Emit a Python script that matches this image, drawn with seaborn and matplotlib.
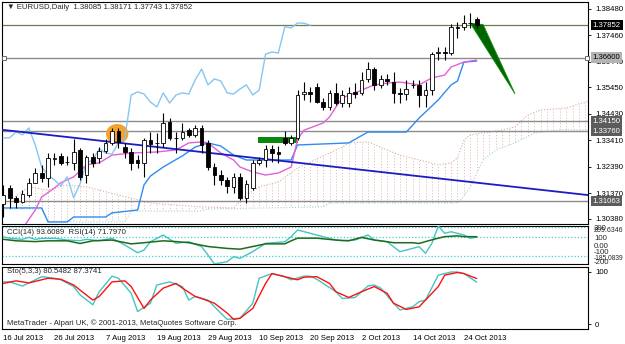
import numpy as np
import matplotlib
matplotlib.use("Agg")
import matplotlib.pyplot as plt
import matplotlib.transforms as mtransforms
from matplotlib.patches import Ellipse, Rectangle, Polygon
import seaborn as sns

# EURUSD daily bars, 16 Jul 2013 - 28 Oct 2013
opens = [1.3095, 1.3157, 1.3119, 1.3103, 1.3130, 1.3177, 1.3215, 1.3196, 1.3270, 1.3281,
         1.3257, 1.3254, 1.3304, 1.3207, 1.3277, 1.3273, 1.3300, 1.3331, 1.3377, 1.3315,
         1.3296, 1.3265, 1.3254, 1.3342, 1.3331, 1.3331, 1.3412, 1.3350, 1.3350, 1.3381,
         1.3362, 1.3389, 1.3331, 1.3238, 1.3207, 1.3188, 1.3161, 1.3200, 1.3119, 1.3157,
         1.3254, 1.3265, 1.3308, 1.3296, 1.3350, 1.3331, 1.3350, 1.3520, 1.3528, 1.3547,
         1.3489, 1.3470, 1.3524, 1.3485, 1.3485, 1.3528, 1.3524, 1.3578, 1.3616, 1.3555,
         1.3578, 1.3566, 1.3522, 1.3520, 1.3553, 1.3555, 1.3516, 1.3535, 1.3678, 1.3682,
         1.3678, 1.3779, 1.3779, 1.3794, 1.38085]
highs = [1.3169, 1.3169, 1.3125, 1.3149, 1.3196, 1.3235, 1.3246, 1.3292, 1.3292, 1.3292,
         1.3280, 1.3346, 1.3311, 1.3285, 1.3292, 1.3315, 1.3346, 1.3389, 1.3389, 1.3331,
         1.3311, 1.3285, 1.3350, 1.3373, 1.3369, 1.3447, 1.3427, 1.3373, 1.3408, 1.3389,
         1.3400, 1.3400, 1.3342, 1.3254, 1.3227, 1.3200, 1.3215, 1.3215, 1.3188, 1.3265,
         1.3277, 1.3323, 1.3323, 1.3320, 1.3377, 1.3362, 1.3535, 1.3566, 1.3547, 1.3562,
         1.3505, 1.3535, 1.3562, 1.3535, 1.3547, 1.3562, 1.3605, 1.3643, 1.3624, 1.3593,
         1.3597, 1.3605, 1.3543, 1.3574, 1.3574, 1.3574, 1.3566, 1.3682, 1.3701, 1.3701,
         1.3790, 1.3798, 1.3825, 1.3833, 1.38171]
lows = [1.3045, 1.3080, 1.3080, 1.3099, 1.3123, 1.3175, 1.3180, 1.3161, 1.3246, 1.3246,
        1.3246, 1.3227, 1.3188, 1.3177, 1.3238, 1.3254, 1.3292, 1.3323, 1.3311, 1.3273,
        1.3227, 1.3235, 1.3200, 1.3292, 1.3292, 1.3315, 1.3342, 1.3292, 1.3342, 1.3354,
        1.3354, 1.3292, 1.3227, 1.3169, 1.3169, 1.3138, 1.3138, 1.3111, 1.3099, 1.3149,
        1.3246, 1.3238, 1.3257, 1.3254, 1.3323, 1.3323, 1.3342, 1.3497, 1.3489, 1.3485,
        1.3460, 1.3460, 1.3477, 1.3470, 1.3470, 1.3505, 1.3516, 1.3566, 1.3535, 1.3543,
        1.3555, 1.3485, 1.3485, 1.3497, 1.3543, 1.3470, 1.3470, 1.3516, 1.3651, 1.3651,
        1.3670, 1.3736, 1.3767, 1.3775, 1.37743]
closes = [1.3130, 1.3119, 1.3103, 1.3134, 1.3177, 1.3215, 1.3196, 1.3273, 1.3273, 1.3254,
          1.3258, 1.3296, 1.3200, 1.3277, 1.3254, 1.3300, 1.3331, 1.3377, 1.3335, 1.3296,
          1.3254, 1.3254, 1.3342, 1.3327, 1.3332, 1.3408, 1.3350, 1.3351, 1.3373, 1.3362,
          1.3389, 1.3323, 1.3238, 1.3207, 1.3188, 1.3165, 1.3200, 1.3119, 1.3173, 1.3254,
          1.3265, 1.3308, 1.3292, 1.3288, 1.3331, 1.3350, 1.3516, 1.3528, 1.3520, 1.3489,
          1.3470, 1.3524, 1.3485, 1.3516, 1.3524, 1.3520, 1.3574, 1.3616, 1.3555, 1.3578,
          1.3570, 1.3524, 1.3520, 1.3539, 1.3555, 1.3516, 1.3535, 1.3674, 1.3682, 1.3678,
          1.3779, 1.3775, 1.3794, 1.3793, 1.37852]

date_ticks = [0, 8, 16, 24, 32, 40, 48, 56, 64, 72]
date_labels = ["16 Jul 2013", "26 Jul 2013", "7 Aug 2013", "19 Aug 2013", "29 Aug 2013",
               "10 Sep 2013", "20 Sep 2013", "2 Oct 2013", "14 Oct 2013", "24 Oct 2013"]
price_ticks = [1.38480, 1.37460, 1.36440, 1.35450, 1.34430, 1.33410, 1.32390, 1.31370, 1.30380]

# ichimoku lines (bar index, price)
tenkan_x = [3, 5, 6, 8, 9, 11, 13, 15, 17, 20, 24, 27, 29, 31, 32, 34, 36, 37, 39, 41, 43, 45,
            46, 47, 50, 51, 52, 53, 55, 56, 58, 60, 62, 65, 67, 69, 70, 72, 74]
tenkan = [1.3000, 1.3072, 1.3122, 1.3157, 1.3177, 1.3200, 1.3246, 1.3254, 1.3284, 1.3292,
          1.3296, 1.3304, 1.3331, 1.3335, 1.3331, 1.3292, 1.3265, 1.3238, 1.3219, 1.3207,
          1.3215, 1.3238, 1.3345, 1.3380, 1.3408, 1.3431, 1.3470, 1.3505, 1.3524, 1.3535,
          1.3555, 1.3562, 1.3566, 1.3555, 1.3582, 1.3593, 1.3624, 1.3643, 1.3651]
kijun_x = [0, 6, 7, 10, 11, 16, 17, 21, 22, 23, 25, 28, 30, 32, 34, 36, 38, 45, 46, 54, 57,
           63, 65, 68, 70, 71, 72, 74]
kijun = [1.3080, 1.3080, 1.3026, 1.3026, 1.3045, 1.3045, 1.3061, 1.3072, 1.3169, 1.3203,
         1.3238, 1.3281, 1.3315, 1.3331, 1.3319, 1.3284, 1.3265, 1.3265, 1.3323, 1.3331,
         1.3373, 1.3373, 1.3427, 1.3497, 1.3555, 1.3570, 1.3643, 1.3647]
span_a_x = [0, 4, 7, 10, 13, 15, 18, 23, 31, 36, 38, 40, 43, 46, 51, 53, 54, 57, 60, 62, 65,
            68, 70, 71, 72, 73, 78, 80, 82, 84, 88, 92]
span_a = [1.3091, 1.3161, 1.3149, 1.3169, 1.3161, 1.3149, 1.3130, 1.3099, 1.3084, 1.3080,
          1.3130, 1.3161, 1.3180, 1.3234, 1.3292, 1.3315, 1.3331, 1.3335, 1.3304, 1.3284,
          1.3265, 1.3246, 1.3254, 1.3273, 1.3342, 1.3362, 1.3381, 1.3393, 1.3439, 1.3458,
          1.3466, 1.3497]
span_b_x = [0, 6, 7, 19, 20, 31, 32, 50, 51, 71, 72, 73, 75, 77, 80, 83, 87, 92]
span_b = [1.3076, 1.3076, 1.3026, 1.3026, 1.3068, 1.3068, 1.3076, 1.3084, 1.3099, 1.3099,
          1.3126, 1.3161, 1.3265, 1.3304, 1.3331, 1.3369, 1.3381, 1.3381]
chikou_shift = 26

# drawn objects
trend_x = [-1, 92]
trend_y = [1.3384, 1.3128]
bid_level = 1.37852
h_levels = [1.36600, 1.34150, 1.33760, 1.31063]

# CCI(14) and RSI(14)
cci_x = [0, 1, 3, 4, 5, 6, 8, 10, 12, 13, 15, 17, 19, 21, 22, 23, 25, 27, 29, 31, 32, 33, 35,
         36, 37, 39, 41, 44, 45, 46, 48, 50, 52, 53, 55, 57, 58, 60, 62, 63, 65, 66, 67, 68,
         69, 70, 72, 73, 74]
cci = [98, 82, 71, 92, 71, 82, 82, 64, 57, 71, 57, 82, 12, -68, -40, 46, 116, 30, 46, -5,
       -92, -185.0839, -161, -109, -126, -57, 30, 46, 98, 168, 134, 98, 64, 57, 64, 116, 64,
       46, -57, -40, -5, -74, 30, 209.6346, 134, 150, 116, 82, 93.6089]
cci_levels = [200, 100, -100]
rsi_x = [0, 2, 5, 7, 10, 12, 14, 17, 20, 22, 25, 27, 29, 32, 35, 37, 39, 41, 44, 45, 46, 49,
         52, 54, 56, 58, 59, 61, 64, 65, 66, 68, 69, 71, 72, 74]
rsi = [65, 61, 59, 61, 61, 54, 61, 63, 53, 56, 61, 59, 56, 46, 41, 39, 46, 53, 53, 61, 68, 68,
       63, 61, 70, 63, 61, 56, 56, 54, 59, 68, 72, 74, 72, 71.797]

# Stochastic(5,3,3)
sto_main_x = [0, 1, 3, 5, 6, 8, 9, 11, 12, 14, 15, 17, 18, 20, 21, 23, 24, 26, 28, 29, 30, 32,
              34, 35, 37, 39, 40, 42, 44, 45, 47, 48, 49, 52, 53, 55, 57, 58, 59, 61, 62, 64,
              65, 66, 68, 70, 71, 72, 74]
sto_main = [81, 81, 73, 85, 91, 88, 85, 72, 56, 37, 62, 92, 88, 59, 24, 40, 75, 81, 72, 46,
            53, 46, 21, 9, 11, 40, 88, 97, 91, 85, 92, 92, 86, 62, 49, 51, 73, 75, 69, 40,
            27, 33, 43, 46, 94, 100, 100, 97, 80.5482]
sto_sig_x = [0, 2, 4, 6, 7, 9, 11, 14, 15, 17, 19, 20, 22, 23, 25, 27, 28, 30, 31, 33, 35, 36,
             37, 39, 41, 42, 44, 46, 47, 49, 51, 52, 54, 56, 58, 60, 61, 63, 65, 66, 68, 69,
             71, 72, 74]
sto_sig = [78, 83, 79, 85, 88, 86, 75, 46, 53, 81, 83, 72, 30, 46, 69, 78, 69, 53, 49, 40, 21,
           9, 11, 30, 78, 97, 91, 85, 90, 91, 78, 62, 51, 62, 72, 59, 40, 28, 33, 46, 72, 94,
           99, 97, 87.3741]

sns.set_style("white")
plt.rcParams["font.family"] = ["Liberation Sans", "DejaVu Sans"]
FS = 5.6
W, H = 625, 344

fig = plt.figure(figsize=(W / 100, H / 100), dpi=100)


def panel(top, bottom):
    return fig.add_axes([2 / W, 1 - bottom / H, 586 / W, (bottom - top) / H])


ax = panel(2, 224)
ax_cci = panel(226, 264)
ax_sto = panel(267, 329)
XLIM = (-0.2, 91.4)

# ---------------- price panel ----------------
idx = np.arange(len(closes))
o, h, l, c = map(np.array, (opens, highs, lows, closes))
up = c >= o
ax.set_xlim(*XLIM)
ax.set_ylim(1.3018, 1.3875)

# kumo: dotted verticals clipped to the area between the spans
verts = list(zip(span_a_x, span_a)) + list(zip(span_b_x[::-1], span_b[::-1]))
cloud = Polygon(verts, closed=True, facecolor="none", edgecolor="none")
ax.add_patch(cloud)
vl = ax.vlines(np.arange(0, 93), 1.29, 1.40, colors="#e0b6aa", linestyles=(0, (1, 2)),
               lw=0.7, zorder=1)
vl.set_clip_path(cloud)
ax.plot(span_a_x, span_a, color="#dcab9e", lw=0.8, ls=(0, (1, 1.6)), zorder=1)
ax.plot(span_b_x, span_b, color="#a6d2d2", lw=0.8, ls=(0, (1, 1.6)), zorder=1)

# horizontal lines and objects
ax.axhline(bid_level, color="#6b7f4a", lw=0.9, zorder=2)
for lv in h_levels:
    ax.axhline(lv, color="#8c8c8c", lw=1.0, zorder=2)
trans = mtransforms.blended_transform_factory(ax.transAxes, ax.transData)
ax.plot([0.004, 0.998], [h_levels[0]] * 2, transform=trans, ls="none", marker="s", ms=2.6,
        mfc="white", mec="#555555", mew=0.6, clip_on=False, zorder=7)
ax.add_patch(Ellipse((17.8, 1.3366), width=3.5, height=0.0076, fc="#f6a22a", ec="none", zorder=3))
ax.add_patch(Rectangle((39.8, 1.3331), 6.3, 0.0023, fc="#0a880a", ec="none", zorder=3))
ax.add_patch(Polygon([(73.0, 1.3793), (75.0, 1.3788), (80.0, 1.3520)], fc="#006400",
                     ec="#0c900c", lw=0.6, zorder=4))

# ichimoku lines + trend line
sns.lineplot(x=kijun_x, y=kijun, ax=ax, color="#2f8cf0", lw=1.0, legend=False, zorder=4)
sns.lineplot(x=tenkan_x, y=tenkan, ax=ax, color="#e45fd8", lw=1.0, legend=False, zorder=4)
sns.lineplot(x=idx[:-chikou_shift], y=c[chikou_shift:], ax=ax, color="#86c6f2", lw=1.0,
             legend=False, zorder=4)
sns.lineplot(x=trend_x, y=trend_y, ax=ax, color="#1c1cc4", lw=1.3, legend=False, zorder=4)

# candles
ax.vlines(idx, l, h, color="black", lw=0.8, zorder=5)
ax.bar(idx, np.maximum(np.abs(c - o), 0.00004), bottom=np.minimum(o, c), width=0.58,
       color=np.where(up, "white", "black"), edgecolor="black", lw=0.6, zorder=6)

ax.yaxis.tick_right()
ax.set_yticks(price_ticks)
ax.set_yticklabels([f"{v:.5f}" for v in price_ticks])
ax.tick_params(axis="y", direction="out", length=2.5, width=0.6, labelsize=FS, pad=2.5,
               colors="black")
ax.set_xticks([])
ax.set_xlabel("")
ax.set_ylabel("")

box_styles = [(bid_level, "black", "white"), (1.36600, "#b4b4b4", "black"),
              (1.34150, "#5c5c5c", "white"), (1.33760, "#5c5c5c", "white"),
              (1.31063, "#5c5c5c", "white")]
for lv, bg, fc in box_styles:
    ax.text(1.008, lv, f"{lv:.5f}", transform=trans, ha="left", va="center", fontsize=FS,
            color=fc, bbox=dict(boxstyle="square,pad=0.22", fc=bg, ec="none"), zorder=10)

ax.text(0.0085, 0.973, "▼ EURUSD,Daily  1.38085 1.38171 1.37743 1.37852",
        transform=ax.transAxes, ha="left", va="center", fontsize=FS)

# ---------------- CCI / RSI panel ----------------
ax_cci.set_xlim(*XLIM)
ax_cci.set_ylim(-185.0839, 209.6346)
for lv in cci_levels:
    ax_cci.axhline(lv, color="#3fd3d3", lw=0.9, ls=(0, (1, 1.6)), zorder=1)
sns.lineplot(x=cci_x, y=cci, ax=ax_cci, color="#45c3c3", lw=1.0, legend=False, zorder=3)
ax_cci.set_xticks([])
ax_cci.set_yticks([])
ax_cci.set_xlabel("")
ax_cci.set_ylabel("")
ax_rsi = ax_cci.twinx()
ax_rsi.set_xlim(*XLIM)
ax_rsi.set_ylim(0, 100)
sns.lineplot(x=rsi_x, y=rsi, ax=ax_rsi, color="#1d6a1d", lw=1.1, legend=False)
ax_rsi.axis("off")
ax_cci.text(0.0085, 0.82, "CCI(14) 93.6089  RSI(14) 71.7970", transform=ax_cci.transAxes,
            ha="left", va="center", fontsize=FS)
# value labels of the sub-window scale (they overlap in the original too)
cci_labels = [("200", 0.93, FS), ("209.6346", 0.88, 5.0), ("100", 0.68, FS),
              ("0.00", 0.45, FS), ("-100", 0.29, FS), ("-185.0839", 0.15, 4.8),
              ("-200", 0.05, FS)]
for txt, fy, fs in cci_labels:
    ax_cci.text(1.010, fy, txt, transform=ax_cci.transAxes, ha="left", va="center",
                fontsize=fs)

# ---------------- Stochastic panel ----------------
ax_sto.set_xlim(*XLIM)
ax_sto.set_ylim(-9.6, 109.6)
sns.lineplot(x=sto_main_x, y=sto_main, ax=ax_sto, color="#45c3c3", lw=1.0, legend=False)
sns.lineplot(x=sto_sig_x, y=sto_sig, ax=ax_sto, color="#ff1010", lw=1.0, legend=False)
ax_sto.yaxis.tick_right()
ax_sto.set_yticks([0, 100])
ax_sto.set_yticklabels(["0", "100"])
ax_sto.set_xticks(date_ticks)
ax_sto.set_xticklabels(date_labels)
for t in ax_sto.get_xticklabels():
    t.set_horizontalalignment("left")
ax_sto.tick_params(axis="both", direction="out", length=2.5, width=0.6, labelsize=FS,
                   pad=1.5, colors="black")
ax_sto.tick_params(axis="y", pad=2.5)
ax_sto.set_xlabel("")
ax_sto.set_ylabel("")
ax_sto.text(0.0085, 0.92, "Sto(5,3,3) 80.5482 87.3741", transform=ax_sto.transAxes,
            ha="left", va="center", fontsize=FS)
ax_sto.text(0.0085, 0.10, "MetaTrader - Alpari UK, © 2001-2013, MetaQuotes Software Corp.",
            transform=ax_sto.transAxes, ha="left", va="center", fontsize=FS)

for a in (ax, ax_cci, ax_sto):
    for s in a.spines.values():
        s.set_color("black")
        s.set_linewidth(0.8)

fig.savefig("out.png", dpi=100, facecolor="white")
